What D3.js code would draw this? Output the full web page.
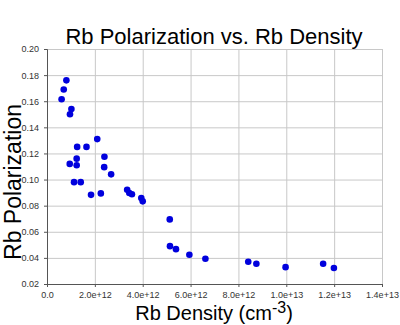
<!DOCTYPE html>
<html>
<head>
<meta charset="utf-8">
<script src="https://cdn.jsdelivr.net/npm/d3@7"></script>
<style>
  body { margin: 0; background: #fff; }
  .grid line { stroke: #c8c8c8; stroke-width: 1; }
  .grid path { display: none; }
  .axis path, .axis line { stroke: #555; }
  .axis text { font-family: "Liberation Sans", Arial, sans-serif; font-size: 9px; fill: #333; }
</style>
</head>
<body>
<div class="chart"></div>
<script>
// density (cm^-3) and polarization for each measurement
const density = [
  0.81e12, 0.70e12, 0.61e12, 1.02e12, 0.96e12, 2.10e12, 1.26e12, 1.65e12,
  1.24e12, 0.95e12, 1.24e12, 2.40e12, 2.39e12, 2.68e12, 1.13e12, 1.41e12,
  1.84e12, 2.25e12, 3.35e12, 3.44e12, 3.55e12, 3.94e12, 4.00e12, 5.13e12,
  5.14e12, 5.39e12, 5.95e12, 6.62e12, 8.41e12, 8.75e12, 9.97e12, 11.54e12,
  11.99e12
];
const polarization = [
  0.176, 0.169, 0.1615, 0.154, 0.150, 0.131, 0.125, 0.125,
  0.116, 0.112, 0.111, 0.1175, 0.1095, 0.104, 0.098, 0.098,
  0.0883, 0.0894, 0.0922, 0.0897, 0.0887, 0.0858, 0.0833, 0.0695,
  0.0490, 0.0467, 0.0424, 0.0393, 0.0370, 0.0355, 0.0329, 0.0355,
  0.0322
];
const xTicks = [0, 2e12, 4e12, 6e12, 8e12, 1e13, 1.2e13, 1.4e13];
const yTicks = [0.02, 0.04, 0.06, 0.08, 0.10, 0.12, 0.14, 0.16, 0.18, 0.20];

const margin = { top: 49, right: 18, bottom: 41, left: 47 };
const width = 400 - margin.left - margin.right;
const height = 325 - margin.top - margin.bottom;

const x = d3.scaleLinear().domain([0, 1.4e13]).range([0, width]);
const y = d3.scaleLinear().domain([0.02, 0.20]).range([height, 0]);

const root = d3.select('.chart').append('svg')
    .attr('width', 400)
    .attr('height', 325);

const svg = root.append('g')
    .attr('transform', `translate(${margin.left}, ${margin.top})`);

// gridlines
svg.append('g')
    .attr('class', 'grid')
    .call(d3.axisLeft(y).tickValues(yTicks).tickSize(-width).tickFormat(''));
svg.append('g')
    .attr('class', 'grid')
    .attr('transform', `translate(0, ${height})`)
    .call(d3.axisBottom(x).tickValues(xTicks).tickSize(-height).tickFormat(''));

const fmtX = d => d === 0 ? '0.0' : d.toExponential(1);

svg.append('g')
    .attr('class', 'axis')
    .attr('transform', `translate(0, ${height})`)
    .call(d3.axisBottom(x).tickValues(xTicks).tickSize(3).tickPadding(5).tickFormat(fmtX));

svg.append('g')
    .attr('class', 'axis')
    .call(d3.axisLeft(y).tickValues(yTicks).tickSize(3).tickPadding(5).tickFormat(d3.format('.2f')));

const points = density.map((d, i) => ({ x: d, y: polarization[i] }));

svg.selectAll('.dot')
    .data(points)
  .enter().append('circle')
    .attr('class', 'dot')
    .attr('r', 3.3)
    .attr('cx', d => x(d.x))
    .attr('cy', d => y(d.y))
    .attr('fill', '#0000dd');

const font = '"Liberation Sans", Arial, sans-serif';

root.append('text')
    .attr('x', 214)
    .attr('y', 44)
    .attr('text-anchor', 'middle')
    .style('font-family', font)
    .style('font-size', '22px')
    .text('Rb Polarization vs. Rb Density');

root.append('text')
    .attr('transform', 'translate(20.5, 182) rotate(-90)')
    .attr('text-anchor', 'middle')
    .style('font-family', font)
    .style('font-size', '23px')
    .text('Rb Polarization');

const xl = root.append('text')
    .attr('x', 214)
    .attr('y', 320)
    .attr('text-anchor', 'middle')
    .style('font-family', font)
    .style('font-size', '20px');
xl.append('tspan').text('Rb Density (cm');
xl.append('tspan').attr('dy', -7).style('font-size', '16px').text('-3');
xl.append('tspan').attr('dy', 7).text(')');
</script>
</body>
</html>
